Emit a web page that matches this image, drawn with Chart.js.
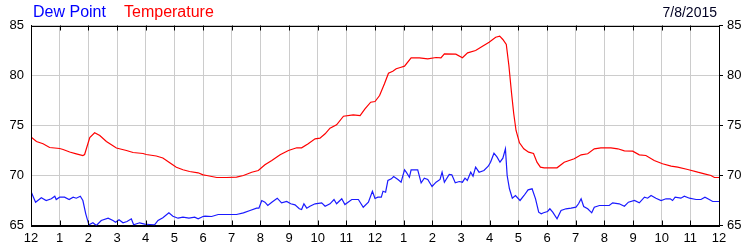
<!DOCTYPE html>
<html lang="en">
<head>
    <meta charset="UTF-8">
    <title>Dew Point / Temperature</title>
    <script src="https://cdn.jsdelivr.net/npm/chart.js"></script>
    <style>
        body { margin: 0; background: #fff; font-family: "Liberation Sans", Arial, sans-serif; }
        .wrap { position: relative; width: 750px; height: 250px; }
        .hdr { position: absolute; white-space: nowrap; line-height: normal; }
        #dewLabel { left: 33px; top: 3px; font-size: 16px; color: #0000ff; }
        #tempLabel { left: 124px; top: 3px; font-size: 16px; color: #ff0000; }
        #dateLabel { right: 33px; top: 4px; font-size: 14px; color: #000022; }
    </style>
</head>
<body>
<div class="wrap">
    <canvas id="wxChart"></canvas>
    <div class="hdr" id="dewLabel">Dew Point</div>
    <div class="hdr" id="tempLabel">Temperature</div>
    <div class="hdr" id="dateLabel">7/8/2015</div>
</div>
<script>
// hour labels along the bottom (0..24)
const hourLabels = ['12','1','2','3','4','5','6','7','8','9','10','11','12','1','2','3','4','5','6','7','8','9','10','11','12'];

// temperature readings (hours since midnight, deg F)
const tempHours = [0,0.19,0.42,0.65,1.0,1.12,1.35,1.58,1.81,1.87,2.05,2.22,2.4,2.63,2.98,3.33,3.56,3.91,4.02,4.37,4.6,4.84,5.07,5.3,5.53,5.83,6.0,6.13,6.48,6.83,7.17,7.41,7.7,7.93,8.16,8.4,8.69,8.98,9.27,9.44,9.67,9.91,10.08,10.26,10.43,10.66,10.9,11.24,11.48,11.65,11.85,12.0,12.16,12.33,12.47,12.62,12.74,12.91,13.03,13.26,13.55,13.84,14.13,14.3,14.42,14.82,15.05,15.23,15.51,15.75,15.98,16.21,16.35,16.46,16.58,16.67,16.76,16.84,16.92,17.04,17.19,17.36,17.53,17.65,17.77,17.9,18.35,18.6,18.95,19.19,19.42,19.65,19.88,20.23,20.47,20.7,20.99,21.22,21.45,21.74,22.03,22.33,22.56,22.91,23.26,23.49,23.72,23.84,24.0];
const tempValues = [73.85,73.4,73.17,72.8,72.7,72.6,72.35,72.17,72.0,72.1,73.8,74.27,74.0,73.4,72.75,72.5,72.3,72.2,72.1,71.95,71.75,71.27,70.83,70.57,70.4,70.27,70.07,70.0,69.8,69.8,69.83,70.0,70.33,70.5,71.07,71.5,72.07,72.5,72.77,72.77,73.17,73.67,73.73,74.17,74.73,75.07,75.93,76.07,76.0,76.67,77.33,77.4,78.0,79.17,80.23,80.43,80.67,80.83,80.93,81.77,81.77,81.67,81.8,81.77,82.17,82.13,81.77,82.27,82.5,82.93,83.33,83.83,83.93,83.6,83.1,81.0,78.33,76.17,74.5,73.27,72.67,72.33,72.2,71.33,70.83,70.77,70.77,71.33,71.67,72.07,72.17,72.67,72.77,72.77,72.67,72.47,72.43,72.07,72.0,71.5,71.17,70.93,70.83,70.6,70.33,70.17,70.0,69.8,69.8];

// dew point readings
const dewHours = [0,0.07,0.16,0.36,0.53,0.71,0.83,0.88,1.0,1.17,1.33,1.47,1.58,1.72,1.81,1.91,2.02,2.16,2.28,2.45,2.69,2.86,2.95,3.07,3.21,3.35,3.5,3.58,3.79,3.97,4.14,4.31,4.43,4.6,4.81,4.95,5.13,5.3,5.51,5.71,5.83,6.0,6.07,6.3,6.53,7.17,7.41,7.64,7.87,7.95,8.05,8.16,8.26,8.4,8.59,8.74,8.92,9.06,9.21,9.36,9.44,9.52,9.62,9.73,9.91,10.14,10.26,10.43,10.57,10.66,10.84,10.95,11.19,11.42,11.59,11.77,11.91,12.0,12.1,12.22,12.28,12.37,12.45,12.57,12.65,12.8,12.91,13.03,13.09,13.2,13.26,13.49,13.61,13.72,13.84,13.99,14.13,14.27,14.34,14.42,14.59,14.68,14.8,14.94,15.05,15.14,15.22,15.34,15.42,15.51,15.63,15.8,15.95,16.03,16.15,16.26,16.36,16.46,16.55,16.61,16.69,16.79,16.9,17.06,17.2,17.34,17.48,17.6,17.71,17.8,17.88,18.02,18.1,18.2,18.35,18.49,18.66,18.84,19.01,19.1,19.19,19.28,19.42,19.56,19.65,19.83,20.17,20.29,20.52,20.7,20.84,21.05,21.22,21.4,21.51,21.63,21.8,21.98,22.15,22.3,22.38,22.47,22.67,22.79,22.97,23.2,23.37,23.51,23.66,23.78,24.0];
const dewValues = [68.4,67.93,67.33,67.77,67.5,67.67,67.93,67.6,67.83,67.83,67.6,67.83,67.73,67.93,67.5,66.17,65.07,65.27,65.0,65.5,65.73,65.5,65.33,65.57,65.27,65.4,65.67,65.07,65.27,65.13,65.1,65.07,65.5,65.77,66.27,65.93,65.73,65.83,65.73,65.83,65.67,65.9,65.93,65.9,66.1,66.1,66.27,66.5,66.73,66.73,67.5,67.33,67.0,67.33,67.73,67.27,67.4,67.17,67.07,66.67,66.6,67.17,66.73,66.93,67.17,67.27,66.93,67.17,67.6,67.17,67.67,67.1,67.6,67.6,66.83,67.33,68.43,67.7,67.83,67.83,68.43,68.33,69.5,69.67,69.9,69.6,69.33,70.57,70.33,69.83,70.57,70.57,69.27,69.73,69.6,68.9,69.33,69.6,70.33,69.33,70.1,70.07,69.27,69.4,69.33,69.73,69.5,70.33,69.93,70.83,70.33,70.5,70.93,71.33,72.23,71.83,71.33,71.73,72.67,70.0,68.67,67.73,68.0,67.5,68.0,68.57,68.67,67.67,66.33,66.17,66.27,66.4,66.67,66.33,65.67,66.5,66.67,66.73,66.83,67.17,67.67,66.9,66.67,66.27,66.83,67.0,67.0,67.27,67.17,66.93,67.33,67.5,67.27,67.83,67.73,68.0,67.73,67.5,67.67,67.67,67.5,67.83,67.73,67.93,67.73,67.6,67.6,67.83,67.6,67.4,67.4];

// frame around the plot with short inward ticks at each hour
const framePlugin = {
    id: 'frame',
    afterDraw(chart) {
        const { ctx, chartArea: a, scales } = chart;
        ctx.save();
        ctx.strokeStyle = '#000';
        ctx.lineWidth = 1;
        ctx.strokeRect(Math.round(a.left) + 0.5, Math.round(a.top) + 0.5, Math.round(a.right - a.left), Math.round(a.bottom - a.top));
        ctx.beginPath();
        for (let h = 1; h < hourLabels.length - 1; h++) {
            const x = Math.round(scales.x.getPixelForValue(h)) + 0.5;
            ctx.moveTo(x, a.top);
            ctx.lineTo(x, a.top + 5);
            ctx.moveTo(x, a.bottom);
            ctx.lineTo(x, a.bottom - 5);
        }
        ctx.stroke();
        ctx.restore();
    }
};

const tickFont = { family: '"Liberation Sans", Arial, sans-serif', size: 13 };

new Chart(document.getElementById('wxChart'), {
    type: 'line',
    data: {
        datasets: [{
            label: 'Temperature',
            data: tempHours.map((h, i) => ({ x: h, y: tempValues[i] })),
            borderColor: '#ff0000',
            borderWidth: 1.2,
            pointRadius: 0,
            tension: 0
        }, {
            label: 'Dew Point',
            data: dewHours.map((h, i) => ({ x: h, y: dewValues[i] })),
            borderColor: '#1a1aff',
            borderWidth: 1.2,
            pointRadius: 0,
            tension: 0
        }]
    },
    options: {
        responsive: true,
        maintainAspectRatio: false,
        animation: false,
        layout: { padding: { top: 25.5, left: 0, right: 0, bottom: 0 } },
        plugins: { legend: { display: false }, tooltip: { enabled: false } },
        scales: {
            x: {
                type: 'linear',
                min: 0,
                max: 24,
                grid: { color: '#cccccc', drawTicks: false },
                border: { color: '#000' },
                ticks: {
                    stepSize: 1,
                    autoSkip: false,
                    maxRotation: 0,
                    padding: 5,
                    color: '#000',
                    font: tickFont,
                    callback: v => hourLabels[v]
                },
                afterFit: s => { s.height = 24.5; }
            },
            y: {
                position: 'left',
                min: 65,
                max: 85,
                grid: { color: '#cccccc', drawTicks: false },
                border: { color: '#000' },
                ticks: { stepSize: 5, padding: 7, color: '#000', font: tickFont },
                afterFit: s => { s.width = 31; }
            },
            y2: {
                position: 'right',
                min: 65,
                max: 85,
                grid: { drawOnChartArea: false, color: '#000', tickLength: 4 },
                border: { color: '#000' },
                ticks: { stepSize: 5, padding: 4, color: '#000', font: tickFont },
                afterFit: s => { s.width = 31; }
            }
        }
    },
    plugins: [framePlugin]
});
</script>
</body>
</html>
